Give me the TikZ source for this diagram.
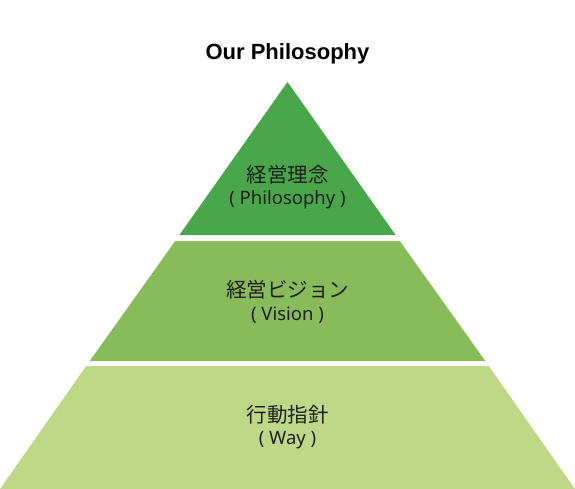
\documentclass[tikz,border=0pt]{standalone}
\usepackage{fontspec}
\usepackage{xcolor}
\usepackage{tikz}
\usetikzlibrary{positioning}
\newfontfamily\jpfont{Noto Sans CJK JP}
\newfontfamily\enfont{Noto Sans}
\newfontfamily\titlefont{Liberation Sans}
\definecolor{topgreen}{HTML}{49A64B}
\definecolor{midgreen}{HTML}{88BC5A}
\definecolor{lowgreen}{HTML}{BED887}
\definecolor{ink}{HTML}{1E1E1E}

\begin{document}
\begin{tikzpicture}[x=1pt, y=-1pt,
    jp/.style={font=\jpfont\fontsize{20.5}{24}\selectfont, text=ink, inner sep=0pt},
    en/.style={font=\enfont\fontsize{18.5}{22}\selectfont, text=ink, inner sep=0pt},
    ttl/.style={font=\titlefont\bfseries\fontsize{22}{26}\selectfont, inner sep=0pt}]
  \useasboundingbox (0,0) rectangle (575,489);
  % three layers of the pyramid
  \fill[topgreen] (287.5,82) -- (395.6,235) -- (179.4,235) -- cycle;
  \fill[midgreen] (175.2,241) -- (399.8,241) -- (485.3,361) -- (89.7,361) -- cycle;
  \fill[lowgreen] (86.2,366) -- (488.8,366) -- (575,489) -- (0,489) -- cycle;
  % labels
  \node[ttl] (title) at (287.5,54) {Our Philosophy};
  \node[jp] (rinen)  at (287.5,175) {経営理念};
  \node[en] (rinenEn) at (287.5,200) {( Philosophy )};
  \node[jp] (vision) at (287.5,290) {経営ビジョン};
  \node[en] (visionEn) at (287.5,315) {( Vision )};
  \node[jp] (way)    at (287.5,415) {行動指針};
  \node[en] (wayEn)  at (287.5,440) {( Way )};
\end{tikzpicture}
\end{document}
